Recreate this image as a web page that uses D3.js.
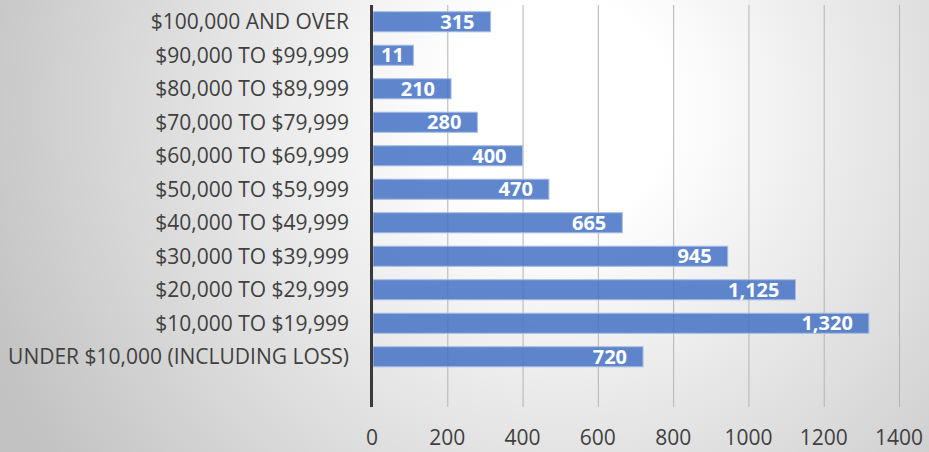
<!DOCTYPE html>
<html>
<head>
<meta charset="utf-8">
<script src="https://cdn.jsdelivr.net/npm/d3@7"></script>
<style>
  body { margin: 0; }
  svg { display: block; }
</style>
</head>
<body>
<div id="chart"></div>
<script>
// income brackets, top to bottom
const categories = [
    '$100,000 AND OVER', '$90,000 TO $99,999', '$80,000 TO $89,999',
    '$70,000 TO $79,999', '$60,000 TO $69,999', '$50,000 TO $59,999',
    '$40,000 TO $49,999', '$30,000 TO $39,999', '$20,000 TO $29,999',
    '$10,000 TO $19,999', 'UNDER $10,000 (INCLUDING LOSS)'
];
// bar lengths as drawn
const values = [315, 110, 210, 280, 400, 470, 665, 945, 1125, 1320, 720];
// labels printed on the bars
const valueLabels = ['315', '11', '210', '280', '400', '470', '665', '945', '1,125', '1,320', '720'];
const xTicks = [0, 200, 400, 600, 800, 1000, 1200, 1400];

const width = 929;
const height = 452;
const plotLeft = 372;
const plotRight = 899;
const plotTop = 5;
const plotBottom = 407;

const svg = d3.select('#chart')
    .append('svg')
    .attr('width', width)
    .attr('height', height);

// soft grey vignette behind everything
const grad = svg.append('defs').append('radialGradient')
    .attr('id', 'bg')
    .attr('gradientUnits', 'userSpaceOnUse')
    .attr('cx', 560).attr('cy', 110).attr('r', 620);
grad.append('stop').attr('offset', '0.18').attr('stop-color', '#ffffff');
grad.append('stop').attr('offset', '1').attr('stop-color', '#c2c2c2');

svg.append('rect')
    .attr('width', width)
    .attr('height', height)
    .attr('fill', 'url(#bg)');

const x = d3.scaleLinear().domain([0, 1400]).range([plotLeft, plotRight]);

// one empty slot is left under the last bar
const bandStep = (plotBottom - plotTop) / (categories.length + 1);
const y = d3.scaleBand()
    .domain(categories)
    .range([plotTop, plotTop + bandStep * categories.length])
    .paddingInner(0.4)
    .paddingOuter(0.2);

// vertical gridlines
svg.append('g')
    .selectAll('line')
    .data(xTicks.slice(1))
    .join('line')
    .attr('x1', d => x(d) + 0.5)
    .attr('x2', d => x(d) + 0.5)
    .attr('y1', plotTop)
    .attr('y2', plotBottom)
    .attr('stroke', '#b4b4b4')
    .attr('stroke-width', 1);

// bars
svg.append('g')
    .selectAll('rect')
    .data(values)
    .join('rect')
    .attr('x', x(0) + 1)
    .attr('y', (d, i) => y(categories[i]))
    .attr('width', d => x(d) - x(0) - 1)
    .attr('height', y.bandwidth())
    .attr('fill', '#4472c4')
    .attr('fill-opacity', 0.85)
    .attr('stroke', '#a9bde3')
    .attr('stroke-width', 1);

// value labels, inside end
const labels = svg.append('g')
    .selectAll('text')
    .data(values)
    .join('text')
    .attr('y', (d, i) => y(categories[i]) + y.bandwidth() / 2)
    .attr('dy', '0.36em')
    .attr('text-anchor', 'start')
    .style('font-family', '"Open Sans", sans-serif')
    .style('font-weight', 'bold')
    .style('font-size', '20px')
    .attr('fill', '#ffffff')
    .text((d, i) => valueLabels[i]);

labels.each(function (d) {
    const w = this.getComputedTextLength();
    const pos = Math.max(x(d) - 16 - w, x(0) + 9);
    d3.select(this).attr('x', pos);
});

// category labels
svg.append('g')
    .selectAll('text')
    .data(categories)
    .join('text')
    .attr('x', 349)
    .attr('y', d => y(d) + y.bandwidth() / 2)
    .attr('dy', '0.36em')
    .attr('text-anchor', 'end')
    .style('font-family', '"Open Sans", sans-serif')
    .style('font-size', '21px')
    .attr('fill', '#404040')
    .text(d => d);

// x tick labels
svg.append('g')
    .selectAll('text')
    .data(xTicks)
    .join('text')
    .attr('x', d => x(d))
    .attr('y', 437)
    .attr('dy', '0.36em')
    .attr('text-anchor', 'middle')
    .style('font-family', '"Open Sans", sans-serif')
    .style('font-size', '21px')
    .attr('fill', '#404040')
    .text(d => d);

// vertical axis line
svg.append('line')
    .attr('x1', x(0) - 0.5)
    .attr('x2', x(0) - 0.5)
    .attr('y1', plotTop)
    .attr('y2', plotBottom)
    .attr('stroke', '#3a3a3a')
    .attr('stroke-width', 3);
</script>
</body>
</html>
